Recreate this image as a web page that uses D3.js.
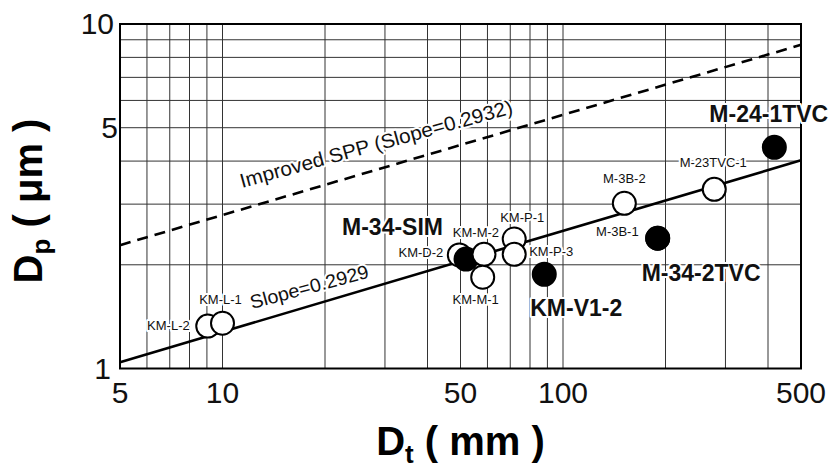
<!DOCTYPE html>
<html>
<head>
<meta charset="utf-8">
<script src="https://cdn.jsdelivr.net/npm/d3@7"></script>
<style>
  body { margin: 0; background: #fff; }
  svg { display: block; font-family: "Liberation Sans", Arial, Helvetica, sans-serif; }
  .grid line { stroke: #333; stroke-width: 1; }
  .frame { fill: none; stroke: #000; stroke-width: 2; }
  .tick-label { font-size: 30px; fill: #111; }
  .pt-label { fill: #111; paint-order: stroke; stroke: #fff; stroke-width: 4px; stroke-linejoin: round; }
</style>
</head>
<body>
<div id="chart"></div>
<script>
// Chart size
const width = 837;
const height = 470;

// Samples: Dt (mm), Dp (um), marker type
const sampleNames = ["KM-L-2", "KM-L-1", "KM-D-2", "M-34-SIM", "KM-M-2", "KM-M-1",
  "KM-P-1", "KM-P-3", "KM-V1-2", "M-3B-2", "M-3B-1", "M-34-2TVC", "M-23TVC-1", "M-24-1TVC"];
const dtValues = [9.05, 10.0, 49.6, 51.9, 58.6, 58.1, 71.9, 71.9, 88.1, 151.4, 189.7, 189.7, 278.1, 417.5];
const dpValues = [1.328, 1.353, 2.136, 2.078, 2.145, 1.840, 2.376, 2.145, 1.877, 3.017, 2.388, 2.388, 3.312, 4.386];
const markerType = ["open", "open", "open", "solid", "open", "open",
  "open", "open", "solid", "open", "open", "solid", "open", "solid"];

// Fitted lines (end points)
const lineDt = [5, 500];
const fitDp = [1.043, 4.02];   // Slope=0.2929
const sppDp = [2.28, 8.70];    // Improved SPP (Slope=0.2932)

// Axis ticks and grid
const xTicks = [5, 10, 50, 100, 500];
const yTicks = [1, 5, 10];
const xGrid = [6, 7, 8, 9, 10, 20, 30, 40, 50, 60, 70, 80, 90, 100, 200, 300, 400];
const yGrid = [2, 3, 4, 5, 6, 7, 8, 9];

// label placement, offsets from the marker centre (layout only)
const labelLayout = {
  "KM-L-2":    { dx: -18, dy: 4,   anchor: "end",    big: false },
  "KM-L-1":    { dx: -2,  dy: -19, anchor: "middle", big: false },
  "KM-D-2":    { dx: -16, dy: 2,   anchor: "end",    big: false },
  "M-34-SIM":  { dx: -23, dy: -24, anchor: "end",    big: true },
  "KM-M-2":    { dx: -8,  dy: -17, anchor: "middle", big: false },
  "KM-M-1":    { dx: -7,  dy: 27,  anchor: "middle", big: false },
  "KM-P-1":    { dx: 8,   dy: -17, anchor: "middle", big: false },
  "KM-P-3":    { dx: 15,  dy: 2,   anchor: "start",  big: false },
  "KM-V1-2":   { dx: -14, dy: 42,  anchor: "start",  big: true },
  "M-3B-2":    { dx: 0,   dy: -20, anchor: "middle", big: false },
  "M-3B-1":    { dx: -19, dy: -2,  anchor: "end",    big: false },
  "M-34-2TVC": { dx: -16, dy: 43,  anchor: "start",  big: true },
  "M-23TVC-1": { dx: -1,  dy: -22, anchor: "middle", big: false },
  "M-24-1TVC": { dx: -65, dy: -25, anchor: "start",  big: true }
};

const samples = sampleNames.map((name, i) => ({
  name, dt: dtValues[i], dp: dpValues[i], type: markerType[i]
}));

// Plot area
const plotLeft = 120, plotRight = 801, plotTop = 24, plotBottom = 368.5;

const x = d3.scaleLog().domain([5, 500]).range([plotLeft, plotRight]);
const y = d3.scaleLog().domain([1, 10]).range([plotBottom, plotTop]);

const svg = d3.select("#chart").append("svg")
  .attr("width", width)
  .attr("height", height);

// gridlines
const grid = svg.append("g").attr("class", "grid");
grid.selectAll(".gx").data(xGrid).enter().append("line")
  .attr("x1", d => x(d)).attr("x2", d => x(d))
  .attr("y1", plotTop).attr("y2", plotBottom);
grid.selectAll(".gy").data(yGrid).enter().append("line")
  .attr("y1", d => y(d)).attr("y2", d => y(d))
  .attr("x1", plotLeft).attr("x2", plotRight);

// frame
svg.append("rect").attr("class", "frame")
  .attr("x", plotLeft).attr("y", plotTop)
  .attr("width", plotRight - plotLeft).attr("height", plotBottom - plotTop);

// tick labels
svg.selectAll(".xt").data(xTicks).enter().append("text")
  .attr("class", "tick-label")
  .attr("x", d => x(d)).attr("y", 403)
  .attr("text-anchor", "middle")
  .text(d => d);
svg.selectAll(".yt").data(yTicks).enter().append("text")
  .attr("class", "tick-label")
  .attr("x", d => d === 1 ? 111 : (d === 5 ? 118 : 114))
  .attr("y", d => y(d) + 10)
  .attr("text-anchor", "end")
  .text(d => d);

// lines
const line = d3.line().x(d => x(d[0])).y(d => y(d[1]));
svg.append("path")
  .datum(lineDt.map((d, i) => [d, sppDp[i]]))
  .attr("d", line)
  .attr("fill", "none").attr("stroke", "#000")
  .attr("stroke-width", 2.6).attr("stroke-dasharray", "11,7");
svg.append("path")
  .datum(lineDt.map((d, i) => [d, fitDp[i]]))
  .attr("d", line)
  .attr("fill", "none").attr("stroke", "#000")
  .attr("stroke-width", 2.6);

// line labels
svg.append("text")
  .attr("transform", "translate(252,309) rotate(-15)")
  .attr("class", "pt-label")
  .attr("font-size", 19)
  .attr("textLength", 122).attr("lengthAdjust", "spacingAndGlyphs")
  .text("Slope=0.2929");
svg.append("text")
  .attr("transform", "translate(242,188) rotate(-15.4)")
  .attr("class", "pt-label")
  .attr("font-size", 20)
  .attr("textLength", 282).attr("lengthAdjust", "spacingAndGlyphs")
  .text("Improved SPP (Slope=0.2932)");

// markers
svg.append("g").selectAll("circle").data(samples).enter().append("circle")
  .attr("cx", d => x(d.dt))
  .attr("cy", d => y(d.dp))
  .attr("r", 11.5)
  .attr("fill", d => d.type === "solid" ? "#000" : "#fff")
  .attr("stroke", "#000")
  .attr("stroke-width", 2);

// sample labels
svg.append("g").selectAll("text").data(samples).enter().append("text")
  .attr("class", "pt-label")
  .attr("x", d => x(d.dt) + labelLayout[d.name].dx)
  .attr("y", d => y(d.dp) + labelLayout[d.name].dy)
  .attr("text-anchor", d => labelLayout[d.name].anchor)
  .attr("font-size", d => labelLayout[d.name].big ? 23 : 13)
  .attr("font-weight", d => labelLayout[d.name].big ? "bold" : "normal")
  .text(d => d.name);

// axis titles
const xTitle = svg.append("text")
  .attr("x", (plotLeft + plotRight) / 2).attr("y", 455)
  .attr("text-anchor", "middle")
  .attr("font-size", 40).attr("font-weight", "bold");
xTitle.append("tspan").text("D");
xTitle.append("tspan").attr("font-size", 26).attr("dy", 8).text("t");
xTitle.append("tspan").attr("dy", -8).text(" ( mm )");

const yTitle = svg.append("text")
  .attr("transform", "translate(42,201) rotate(-90)")
  .attr("text-anchor", "middle")
  .attr("font-size", 40).attr("font-weight", "bold");
yTitle.append("tspan").text("D");
yTitle.append("tspan").attr("font-size", 26).attr("dy", 8).text("p");
yTitle.append("tspan").attr("dy", -8).text(" ( μm )");
</script>
</body>
</html>
